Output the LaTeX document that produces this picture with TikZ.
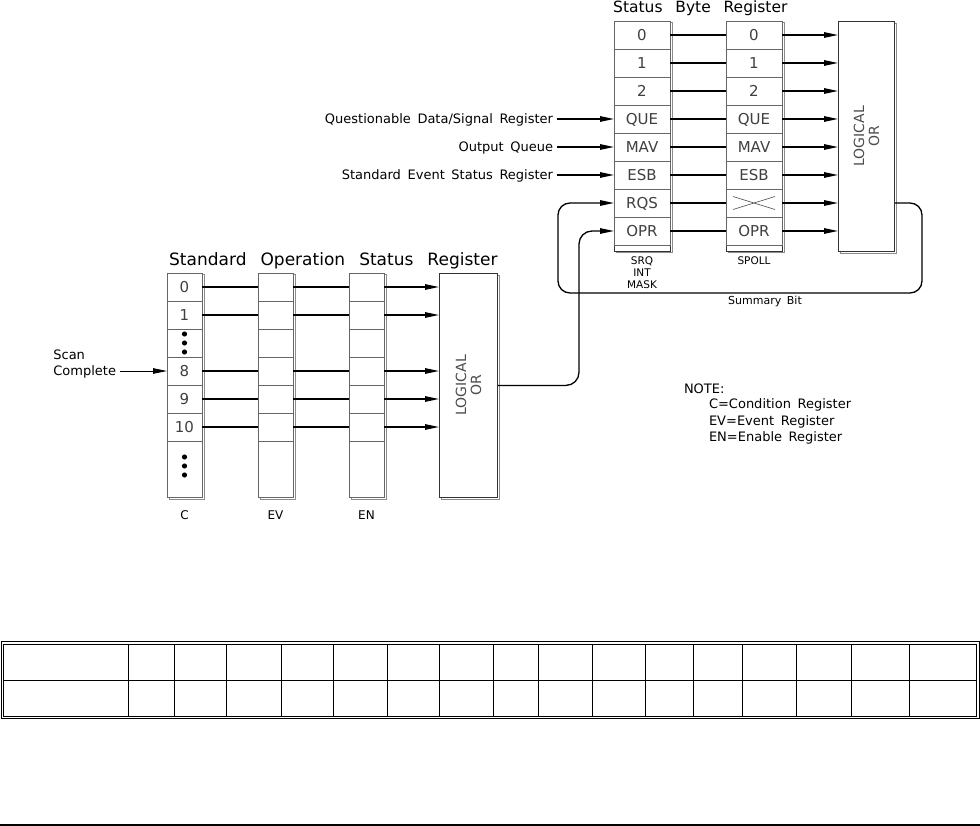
\documentclass[tikz,border=0pt]{standalone}
\usepackage{fontspec}
\setmainfont[WordSpace=1.6]{DejaVu Sans}
\newfontfamily\headfont[WordSpace=2.6]{DejaVu Sans}
\usetikzlibrary{arrows.meta, positioning, fit, backgrounds, shadows}
\newcommand{\lblsize}{\fontsize{13pt}{16.5pt}\selectfont}
\newcommand{\cellsize}{\fontsize{15pt}{15pt}\selectfont}
\newcommand{\tinysize}{\fontsize{10.5pt}{12.3pt}\selectfont}
\tikzstyle{cell}     = [rectangle, draw=black!60, line width=0.6pt, minimum width=56pt,
                        minimum height=28pt, inner sep=0pt, outer sep=0pt, text height=10.9pt,
                        text depth=0pt, text=black!75, font=\cellsize]
\tikzstyle{bitcell}  = [cell, minimum width=35pt]
\tikzstyle{regframe} = [rectangle, draw=black!80, line width=0.8pt, fill=white, inner sep=0pt,
                        general shadow={fill=white, draw=black!45, line width=0.6pt,
                        shadow xshift=1.8pt, shadow yshift=-1.8pt}]
\tikzstyle{orbox}    = [regframe, minimum width=56pt]
\tikzstyle{ortext}   = [rotate=90, align=center, text=black!70, font=\fontsize{14pt}{15pt}\selectfont]
\tikzstyle{wire}     = [line width=1.5pt]
\tikzstyle{arrow}    = [-{Triangle[length=14pt,width=5.5pt]}, line width=1.3pt]
\tikzstyle{tag}      = [inner sep=0pt, outer sep=4pt, text height=9.5pt, text depth=0pt, font=\lblsize]
\tikzstyle{smalltag} = [inner sep=0pt, align=center, font=\tinysize]
\begin{document}
\begin{tikzpicture}[x=1pt, y=-1pt]
  \useasboundingbox (0,0) rectangle (980,826);

  % Status Byte Register
  \node (sbtitle) [anchor=base west, inner sep=0pt, font=\headfont\fontsize{15.5pt}{16pt}\selectfont]
        at (613,13) {Status Byte Register};
  \node (m0) [cell] at (642,35) {0};
  \node (m1) [cell, below=0pt of m0] {1};
  \node (m2) [cell, below=0pt of m1] {2};
  \node (m3) [cell, below=0pt of m2] {QUE};
  \node (m4) [cell, below=0pt of m3] {MAV};
  \node (m5) [cell, below=0pt of m4] {ESB};
  \node (m6) [cell, below=0pt of m5] {RQS};
  \node (m7) [cell, below=0pt of m6] {OPR};
  \node (s0) [cell, right=56pt of m0] {0};
  \node (s1) [cell, below=0pt of s0] {1};
  \node (s2) [cell, below=0pt of s1] {2};
  \node (s3) [cell, below=0pt of s2] {QUE};
  \node (s4) [cell, below=0pt of s3] {MAV};
  \node (s5) [cell, below=0pt of s4] {ESB};
  \node (s6) [cell, below=0pt of s5] {};
  \node (s7) [cell, below=0pt of s6] {OPR};
  \coordinate (mbot) at ([yshift=-6pt]m7.south);
  \coordinate (sbot) at ([yshift=-6pt]s7.south);
  \begin{scope}[on background layer]
    \node (mframe) [regframe, fit=(m0)(mbot)] {};
    \node (sframe) [regframe, fit=(s0)(sbot)] {};
  \end{scope}
  \draw [black!70, line width=0.6pt] ([shift={(-21pt,-6.5pt)}]s6.center) -- ([shift={(21pt,6.5pt)}]s6.center);
  \draw [black!70, line width=0.6pt] ([shift={(-21pt,6.5pt)}]s6.center) -- ([shift={(21pt,-6.5pt)}]s6.center);
  \node (orA) [orbox, minimum height=230pt, right=56pt of s0.north east, anchor=north west] {};
  \node (orAtext) [ortext] at (orA.center) {LOGICAL\\OR};

  \draw [wire] (m0.east) -- (s0.west);
  \draw [wire] (m1.east) -- (s1.west);
  \draw [wire] (m2.east) -- (s2.west);
  \draw [wire] (m3.east) -- (s3.west);
  \draw [wire] (m4.east) -- (s4.west);
  \draw [wire] (m5.east) -- (s5.west);
  \draw [wire] (m6.east) -- (s6.west);
  \draw [wire] (m7.east) -- (s7.west);
  \draw [arrow] (s0.east) -- (s0.east -| orA.west);
  \draw [arrow] (s1.east) -- (s1.east -| orA.west);
  \draw [arrow] (s2.east) -- (s2.east -| orA.west);
  \draw [arrow] (s3.east) -- (s3.east -| orA.west);
  \draw [arrow] (s4.east) -- (s4.east -| orA.west);
  \draw [arrow] (s5.east) -- (s5.east -| orA.west);
  \draw [arrow] (s6.east) -- (s6.east -| orA.west);
  \draw [arrow] (s7.east) -- (s7.east -| orA.west);

  \node (que) [tag, left=57pt of m3] {Questionable Data/Signal Register};
  \node (outq) [tag, left=57pt of m4] {Output Queue};
  \node (stdev) [tag, left=57pt of m5] {Standard Event Status Register};
  \draw [arrow] (que.east) -- (m3.west);
  \draw [arrow] (outq.east) -- (m4.west);
  \draw [arrow] (stdev.east) -- (m5.west);

  \node (srq) [smalltag, below=5pt of mframe] {SRQ\\INT\\MASK};
  \node (spoll) [smalltag, below=5pt of sframe] {SPOLL};

  % Summary bit loop
  \coordinate (loopR) at (922,293);
  \coordinate (loopL) at (558,293);
  \draw [arrow, rounded corners=12pt] (orA.east |- m6) -- (loopR |- m6) -- (loopR) -- (loopL)
        -- (loopL |- m6) -- (m6.west);
  \node (sumbit) [smalltag, font=\fontsize{11pt}{12pt}\selectfont] at (765,301) {Summary Bit};

  % Standard Operation Status Register
  \node (sotitle) [anchor=base west, inner sep=0pt, font=\headfont\fontsize{17pt}{18pt}\selectfont]
        at (169,266) {Standard Operation Status Register};
  \node (c0) [bitcell] at (184.5,287) {0};
  \node (c1) [bitcell, below=0pt of c0] {1};
  \node (cd1) [bitcell, below=0pt of c1] {};
  \node (c8) [bitcell, below=0pt of cd1] {8};
  \node (c9) [bitcell, below=0pt of c8] {9};
  \node (c10) [bitcell, below=0pt of c9] {10};
  \node (cd2) [bitcell, below=0pt of c10, minimum height=56pt] {};
  \node (v0) [bitcell, right=56pt of c0] {};
  \node (v1) [bitcell, below=0pt of v0] {};
  \node (vd1) [bitcell, below=0pt of v1] {};
  \node (v8) [bitcell, below=0pt of vd1] {};
  \node (v9) [bitcell, below=0pt of v8] {};
  \node (v10) [bitcell, below=0pt of v9] {};
  \node (vd2) [bitcell, below=0pt of v10, minimum height=56pt] {};
  \node (n0) [bitcell, right=56pt of v0] {};
  \node (n1) [bitcell, below=0pt of n0] {};
  \node (nd1) [bitcell, below=0pt of n1] {};
  \node (n8) [bitcell, below=0pt of nd1] {};
  \node (n9) [bitcell, below=0pt of n8] {};
  \node (n10) [bitcell, below=0pt of n9] {};
  \node (nd2) [bitcell, below=0pt of n10, minimum height=56pt] {};
  \begin{scope}[on background layer]
    \node (cframe) [regframe, fit=(c0)(cd2)] {};
    \node (vframe) [regframe, fit=(v0)(vd2)] {};
    \node (nframe) [regframe, fit=(n0)(nd2)] {};
  \end{scope}
  \fill ([yshift=9pt]cd1.center) circle (2.6pt);
  \fill (cd1.center) circle (2.6pt);
  \fill ([yshift=-9pt]cd1.center) circle (2.6pt);
  \fill ([yshift=12pt]cd2.center) circle (2.6pt);
  \fill ([yshift=3pt]cd2.center) circle (2.6pt);
  \fill ([yshift=-6pt]cd2.center) circle (2.6pt);
  \node (orB) [orbox, minimum width=58pt, minimum height=224pt, right=55pt of n0.north east, anchor=north west] {};
  \node (orBtext) [ortext] at (orB.center) {LOGICAL\\OR};

  \draw [wire] (c0.east) -- (v0.west);
  \draw [wire] (c1.east) -- (v1.west);
  \draw [wire] (c8.east) -- (v8.west);
  \draw [wire] (c9.east) -- (v9.west);
  \draw [wire] (c10.east) -- (v10.west);
  \draw [wire] (v0.east) -- (n0.west);
  \draw [wire] (v1.east) -- (n1.west);
  \draw [wire] (v8.east) -- (n8.west);
  \draw [wire] (v9.east) -- (n9.west);
  \draw [wire] (v10.east) -- (n10.west);
  \draw [arrow] (n0.east) -- (n0.east -| orB.west);
  \draw [arrow] (n1.east) -- (n1.east -| orB.west);
  \draw [arrow] (n8.east) -- (n8.east -| orB.west);
  \draw [arrow] (n9.east) -- (n9.east -| orB.west);
  \draw [arrow] (n10.east) -- (n10.east -| orB.west);

  \node (complete) [tag, left=47pt of c8] {Complete};
  \node (scan) [tag, above=-1pt of complete.north west, anchor=south west] {Scan};
  \draw [arrow, line width=0.8pt] (complete.east) -- (c8.west);

  \node (lblc) [tag, font=\fontsize{12pt}{12pt}\selectfont, text height=8.7pt, below=9pt of cframe] {C};
  \node (lblev) [tag, font=\fontsize{12pt}{12pt}\selectfont, text height=8.7pt, below=9pt of vframe] {EV};
  \node (lblen) [tag, font=\fontsize{12pt}{12pt}\selectfont, text height=8.7pt, below=9pt of nframe] {EN};

  % Operation summary into OPR
  \coordinate (riser) at (579,300);
  \draw [arrow, rounded corners=13pt] (orB.east) -- (riser |- orB.east) -- (riser |- m7) -- (m7.west);

  % Note
  \node (notec) [tag, anchor=west] at (705,404) {C=Condition Register};
  \node (notev) [tag, below=-1pt of notec.south west, anchor=north west] {EV=Event Register};
  \node (noten) [tag, below=-1pt of notev.south west, anchor=north west] {EN=Enable Register};
  \node (note) [tag, above=-2.5pt of notec.north west, anchor=south west, xshift=-25pt] {NOTE:};

  % Table
  \draw [line width=1pt] (1,641.5) rectangle (979,718.5);
  \draw [line width=1pt] (3.5,644) rectangle (976.5,716);
  \draw [line width=1pt] (3.5,680) -- (976.5,680);
  \foreach \x in {128,174,226,281,333,387,439,493,538,592,645,693,742,796,851,909}
    \draw [line width=1pt] (\x,644) -- (\x,716);
  \draw [line width=1.3pt] (0,825) -- (980,825);
\end{tikzpicture}
\end{document}
